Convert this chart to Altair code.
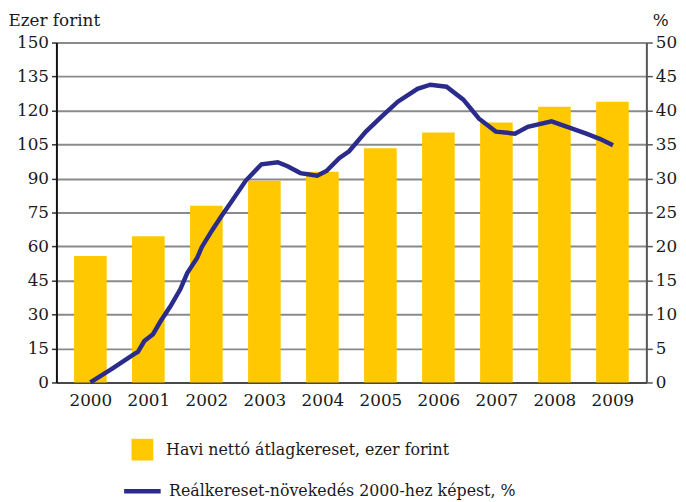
import altair as alt
import pandas as pd

years = [2000, 2001, 2002, 2003, 2004, 2005, 2006, 2007, 2008, 2009]
wages = [55.8, 64.5, 78.0, 89.0, 93.0, 103.4, 110.3, 114.7, 121.7, 123.9]

line_t = [2000.00, 2000.37, 2000.76, 2000.82, 2000.93, 2001.08, 2001.21, 2001.38,
          2001.55, 2001.67, 2001.84, 2001.92, 2002.10, 2002.27, 2002.44, 2002.68,
          2002.95, 2003.23, 2003.40, 2003.62, 2003.91, 2004.07, 2004.29, 2004.46,
          2004.75, 2005.02, 2005.30, 2005.64, 2005.86, 2006.14, 2006.43, 2006.70,
          2006.99, 2007.32, 2007.54, 2007.95, 2008.22, 2008.55, 2008.79, 2009.01]
line_v = [0.0, 2.0, 4.2, 4.5, 6.1, 7.1, 9.0, 11.2,
          13.7, 16.1, 18.3, 19.9, 22.4, 24.6, 26.7, 29.7,
          32.1, 32.4, 31.8, 30.8, 30.4, 31.1, 33.0, 34.0,
          36.9, 39.1, 41.3, 43.2, 43.8, 43.5, 41.6, 38.8,
          36.9, 36.6, 37.6, 38.4, 37.6, 36.6, 35.8, 34.9]

bar_name = "Havi nettó átlagkereset, ezer forint"
line_name = "Reálkereset-növekedés 2000-hez képest, %"
left_ticks = list(range(0, 151, 15))
right_ticks = list(range(0, 51, 5))

bars_df = pd.DataFrame({"year": years, "value": wages, "series": bar_name})
line_df = pd.DataFrame({"t": line_t, "pct": line_v, "series": line_name})

FONT = "DejaVu Serif"
YELLOW = "#FFC800"
BLUE = "#2B2B8C"
TXT = "#1a1a1a"

xscale = alt.Scale(domain=[1999.5, 2009.5], nice=False, zero=False)
xaxis = alt.Axis(values=years, format="d", grid=False, ticks=False, title=None,
                 labelFontSize=17, labelFont=FONT, labelColor=TXT,
                 labelPadding=10, domainColor="#333", domainWidth=1.5, labelFlush=False)

bars = alt.Chart(bars_df).mark_bar(size=33).encode(
    x=alt.X("year:Q", scale=xscale, axis=xaxis),
    y=alt.Y("value:Q", scale=alt.Scale(domain=[0, 150], nice=False),
            axis=alt.Axis(values=left_ticks, title="Ezer forint", titleAngle=0,
                          titleX=-49, titleY=-22, titleAlign="left", titleBaseline="middle",
                          titleFont=FONT, titleFontSize=17, titleFontWeight="normal",
                          titleColor=TXT,
                          labelFont=FONT, labelFontSize=17, labelColor=TXT,
                          labelPadding=3, tickSize=5, tickColor="#333", tickWidth=1.5,
                          domainColor="#111", domainWidth=2,
                          grid=True, gridColor="#8a8a8a", gridWidth=2)),
    color=alt.Color("series:N", scale=alt.Scale(domain=[bar_name], range=[YELLOW]),
                    legend=alt.Legend(orient="none", legendX=76, legendY=401,
                                      title=None, symbolType="square", symbolSize=484,
                                      symbolStrokeWidth=0, labelFont=FONT,
                                      labelFontSize=16, labelColor=TXT,
                                      labelOffset=13, labelLimit=0)),
)

line = alt.Chart(line_df).mark_line(strokeWidth=4.5).encode(
    x=alt.X("t:Q", scale=xscale, axis=xaxis),
    y=alt.Y("pct:Q", scale=alt.Scale(domain=[0, 50], nice=False),
            axis=alt.Axis(orient="right", values=right_ticks, title="%", titleAngle=0,
                          titleX=6, titleY=-22, titleAlign="left", titleBaseline="middle",
                          titleFont=FONT, titleFontSize=17, titleFontWeight="normal",
                          titleColor=TXT,
                          labelFont=FONT, labelFontSize=17, labelColor=TXT,
                          labelPadding=3, tickSize=6, tickColor="#555", tickWidth=1.5,
                          domainColor="#555", domainWidth=2, grid=False)),
    stroke=alt.Stroke("series:N", scale=alt.Scale(domain=[line_name], range=[BLUE]),
                      legend=alt.Legend(orient="none", legendX=66, legendY=433,
                                        title=None, symbolType="stroke", symbolSize=1369,
                                        symbolStrokeWidth=4.5, labelFont=FONT,
                                        labelFontSize=16, labelColor=TXT,
                                        labelOffset=6, labelLimit=0)),
)

chart = alt.layer(bars, line).resolve_scale(y="independent", color="independent").properties(
    width=597, height=344,
    autosize=alt.AutoSizeParams(type="none"),
    padding={"left": 49, "top": 32, "right": 32, "bottom": 118},
).configure_view(stroke="#111", strokeWidth=2).configure(background="white")

chart.save("out.html", embed_options={"renderer": "svg", "actions": False})
